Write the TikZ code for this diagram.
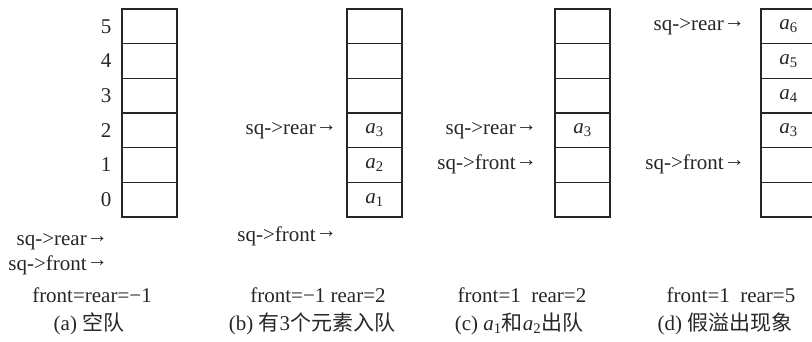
\documentclass[tikz,border=0pt]{standalone}
\usepackage{fontspec}
\setmainfont{Liberation Serif}
\newfontfamily\cjk{Noto Sans CJK SC}
\newcommand\elem[1]{\textit{a}\textsubscript{#1}}
\newcommand\ptrarrow{\raisebox{0.17em}{→}}
\begin{document}
\begin{tikzpicture}[x=1pt,y=-1pt,
  every node/.style={font=\fontsize{21}{25}\selectfont, text=black!85},
  cell/.style={draw=black!85, line width=1.1pt, minimum width=55pt, minimum height=34.667pt, inner sep=0pt},
  ptr/.style={anchor=base east, inner sep=0pt},
  stat/.style={anchor=base, inner sep=0pt},
  captext/.style={anchor=base, inner sep=0pt},
  idx/.style={inner sep=0pt}]
\useasboundingbox (0,0) rectangle (812,342);
% queue cells
\foreach \q/\x in {qa/149.5, qb/374.5, qc/582.5, qd/788.5}{
  \foreach \i in {0,...,5}{
    \node[cell] (\q\i) at (\x, 217-34.667*\i-17.333) {};
  }
}
% indices
\foreach \i in {0,...,5}{
  \node[idx] (n\i) at (106, 217-34.667*\i-17.333) {\i};
}
% contents
\node at (qb0) {\elem{1}};
\node at (qb1) {\elem{2}};
\node at (qb2) {\elem{3}};
\node at (qc2) {\elem{3}};
\node at (qd2) {\elem{3}};
\node at (qd3) {\elem{4}};
\node at (qd4) {\elem{5}};
\node at (qd5) {\elem{6}};
% pointers
\node[ptr] (ra) at (108,246) {sq->rear\ptrarrow};
\node[ptr] (fa) at (108,270) {sq->front\ptrarrow};
\node[ptr] (rb) at (337,135) {sq->rear\ptrarrow};
\node[ptr] (fb) at (337,241) {sq->front\ptrarrow};
\node[ptr] (rc) at (537,135) {sq->rear\ptrarrow};
\node[ptr] (fc) at (537,170) {sq->front\ptrarrow};
\node[ptr] (rd) at (745,31) {sq->rear\ptrarrow};
\node[ptr] (fd) at (745,170) {sq->front\ptrarrow};
% status
\node[stat] (sa) at (92,302) {front=rear=−1};
\node[stat] (sb) at (318,302) {front=−1 rear=2};
\node[stat] (sc) at (522,302) {front=1\ \ rear=2};
\node[stat] (sd) at (731,302) {front=1\ \ rear=5};
% captions
\node[captext] (ca) at (89,330) {(a) {\cjk 空队}};
\node[captext] (cb) at (312,330) {(b) {\cjk 有}3{\cjk 个元素入队}};
\node[captext] (cc) at (519,330) {(c) \elem{1}{\cjk 和}\elem{2}{\cjk 出队}};
\node[captext] (cd) at (725,330) {(d) {\cjk 假溢出现象}};
\end{tikzpicture}
\end{document}
